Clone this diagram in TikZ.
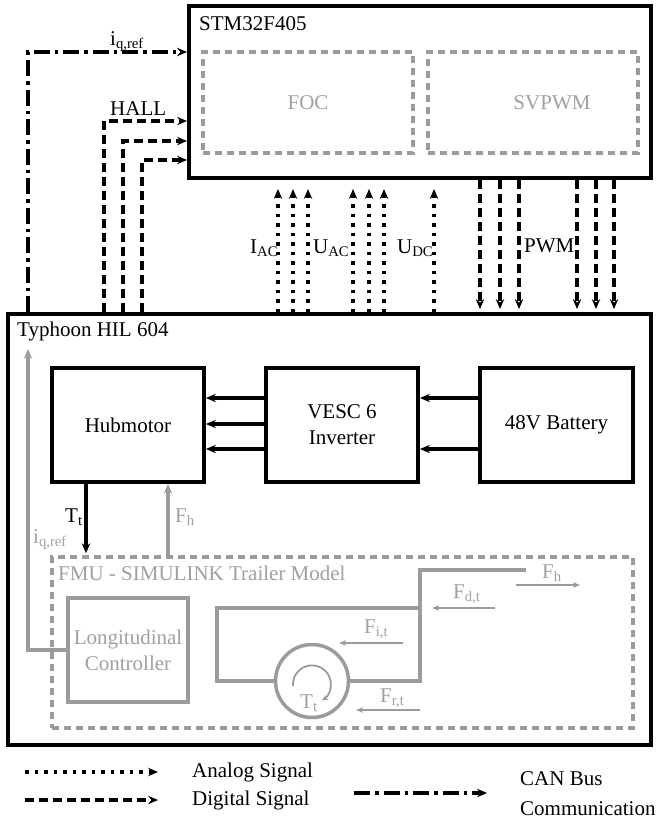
\documentclass[tikz,border=0pt]{standalone}
\usepackage{fontspec}
\setmainfont{Liberation Serif}
\usetikzlibrary{arrows.meta}
\definecolor{gl}{RGB}{155,155,155}
\definecolor{gt}{RGB}{160,160,160}
\begin{document}
\begin{tikzpicture}[x=1pt,y=-1pt,
  font=\fontsize{21}{26}\selectfont,
  box/.style={draw,line width=4pt,inner sep=0pt,align=center},
  gdash/.style={draw=gl,line width=3.5pt,dash pattern=on 7pt off 5pt,inner sep=0pt},
  arr/.style={-{Stealth[length=10pt,width=8.5pt,inset=3.5pt]}},
  analog/.style={line width=3.5pt,dash pattern=on 3.5pt off 6pt,arr},
  digital/.style={line width=3.5pt,dash pattern=on 9pt off 5pt,arr},
  canbus/.style={line width=3.5pt,dash pattern=on 16pt off 5pt on 3.5pt off 5pt,arr},
  solidarr/.style={line width=3.5pt,arr},
  garr/.style={draw=gl,line width=3.5pt,-{Stealth[length=10pt,width=8.5pt,inset=3.5pt]}},
  force/.style={draw=gl,line width=1.8pt,-{Stealth[length=7pt,width=5.5pt,inset=2pt]}},
  gline/.style={draw=gl,line width=3.5pt},
  lbl/.style={anchor=base west,inner sep=0pt},
  glbl/.style={anchor=base west,inner sep=0pt,text=gt}]
\useasboundingbox (0,0) rectangle (657,820);

% main boxes
\node[box,minimum width=462pt,minimum height=172pt] (stm) at (420,92) {};
\node[box,minimum width=643pt,minimum height=431pt] (typ) at (329.5,529.5) {};
\node[gdash,minimum width=210pt,minimum height=101pt,text=gt] (foc) at (308,102.5) {FOC};
\node[gdash,minimum width=210pt,minimum height=101pt] (svp) at (533,102.5) {};
\node[inner sep=0pt,text=gt] (svptxt) at (552,103) {SVPWM};
\node[lbl] (stmlbl) at (199,30) {STM32F405};
\node[lbl] (typlbl) at (17,336) {Typhoon HIL 604};

\node[box,minimum width=152pt,minimum height=114pt] (hub) at (128,425) {Hubmotor};
\node[box,minimum width=152pt,minimum height=114pt] (vesc) at (342,425) {VESC 6\\Inverter};
\node[box,minimum width=153pt,minimum height=114pt] (bat) at (556.5,425) {48V Battery};

\node[gdash,minimum width=581pt,minimum height=171pt] (fmu) at (342.5,642.5) {};
\node[glbl] (fmulbl) at (58,580) {FMU - SIMULINK Trailer Model};
\node[draw=gl,line width=3.5pt,inner sep=0pt,minimum width=120pt,minimum height=104pt,
      align=center,text=gt] (long) at (128,650) {Longitudinal\\Controller};

% coordinates
\coordinate (c1) at (28,52);
\coordinate (h1) at (104,121);
\coordinate (h2) at (123,141);
\coordinate (h3) at (142,160);
\foreach \n/\x in {a1/278,a2/293,a3/308,a4/353,a5/369,a6/384,a7/434,
                   p1/480,p2/500,p3/519,p4/577,p5/596,p6/614,
                   tt/86,fh/168}
  \coordinate (\n) at (\x,0);
\foreach \n/\y in {r1/398,r2/424,r3/449}
  \coordinate (\n) at (0,\y);

% CAN bus
\draw[canbus] (typ.north -| c1) |- (stm.west |- c1);
\node[lbl] (iqlbl) at (110,45) {i\textsubscript{q,ref}};
% HALL
\foreach \h in {h1,h2,h3}
  \draw[digital] (typ.north -| \h) |- (stm.west |- \h);
\node[lbl] (hall) at (110,115) {HALL};
% analog
\foreach \a in {a1,a2,a3,a4,a5,a6,a7}
  \draw[analog,shorten >=9pt] (typ.north -| \a) -- (stm.south -| \a);
\node[lbl] (iac) at (250,253) {I\textsubscript{AC}};
\node[lbl] (uac) at (313,253) {U\textsubscript{AC}};
\node[lbl] (udc) at (397,253) {U\textsubscript{DC}};
% PWM
\foreach \p in {p1,p2,p3,p4,p5,p6}
  \draw[digital,shorten >=3pt] (stm.south -| \p) -- (typ.north -| \p);
\node[lbl] (pwm) at (524,252) {PWM};

% power arrows
\foreach \r in {r1,r2,r3}
  \draw[solidarr] (vesc.west |- \r) -- (hub.east |- \r);
\foreach \r in {r1,r3}
  \draw[solidarr] (bat.west |- \r) -- (vesc.east |- \r);

% Tt and Fh
\draw[solidarr,shorten >=2pt] (hub.south -| tt) -- (fmu.north -| tt);
\node[lbl] (ttlbl) at (65,522) {T\textsubscript{t}};
\draw[garr] (fmu.north -| fh) -- (hub.south -| fh);
\node[glbl] (fhlbl) at (175,522) {F\textsubscript{h}};

% iq,ref grey
\coordinate (iqtop) at (28,349);
\draw[garr] (long.west) -| (iqtop);
\node[glbl] (iqglbl) at (33,543) {i\textsubscript{q,ref}};

% trailer
\node[draw=gl,line width=3.5pt,circle,minimum size=73pt,inner sep=0pt] (wheel) at (312,681) {};
\draw[gline] (wheel.west) -- (217,681) -- (217,608) -- (421.75,608);
\draw[gline] (526,570) -- (420,570) -- (420,681) -- (wheel.east);
\draw[draw=gl,line width=1.8pt,-{Stealth[length=6pt,width=5.5pt,inset=2pt]}]
  (293,686) arc[start angle=175,end angle=418,radius=19];
\node[glbl] (twlbl) at (300,708) {T\textsubscript{t}};

% forces
\coordinate (fh1) at (516,585); \coordinate (fh2) at (580,585);
\coordinate (fd1) at (495,608); \coordinate (fd2) at (432,608);
\coordinate (fi1) at (403,643); \coordinate (fi2) at (339,643);
\coordinate (fr1) at (420,710); \coordinate (fr2) at (356,710);
\draw[force] (fh1) -- (fh2);
\draw[force] (fd1) -- (fd2);
\draw[force] (fi1) -- (fi2);
\draw[force] (fr1) -- (fr2);
\node[glbl] (fhl2) at (542,578) {F\textsubscript{h}};
\node[glbl] (fdl) at (453,598) {F\textsubscript{d,t}};
\node[glbl] (fil) at (364,633) {F\textsubscript{i,t}};
\node[glbl] (frl) at (380,702) {F\textsubscript{r,t}};

% legend
\coordinate (la1) at (25,772); \coordinate (la2) at (158,772);
\coordinate (ld1) at (25,800); \coordinate (ld2) at (158,800);
\coordinate (lc1) at (354,793); \coordinate (lc2) at (487,793);
\draw[analog] (la1) -- (la2);
\draw[digital] (ld1) -- (ld2);
\draw[canbus] (lc1) -- (lc2);
\node[lbl] (lal) at (192,777) {Analog Signal};
\node[lbl] (ldl) at (192,805) {Digital Signal};
\node[lbl] (lcl1) at (520,785) {CAN Bus};
\node[lbl] (lcl2) at (520,815) {Communication};
\end{tikzpicture}
\end{document}
